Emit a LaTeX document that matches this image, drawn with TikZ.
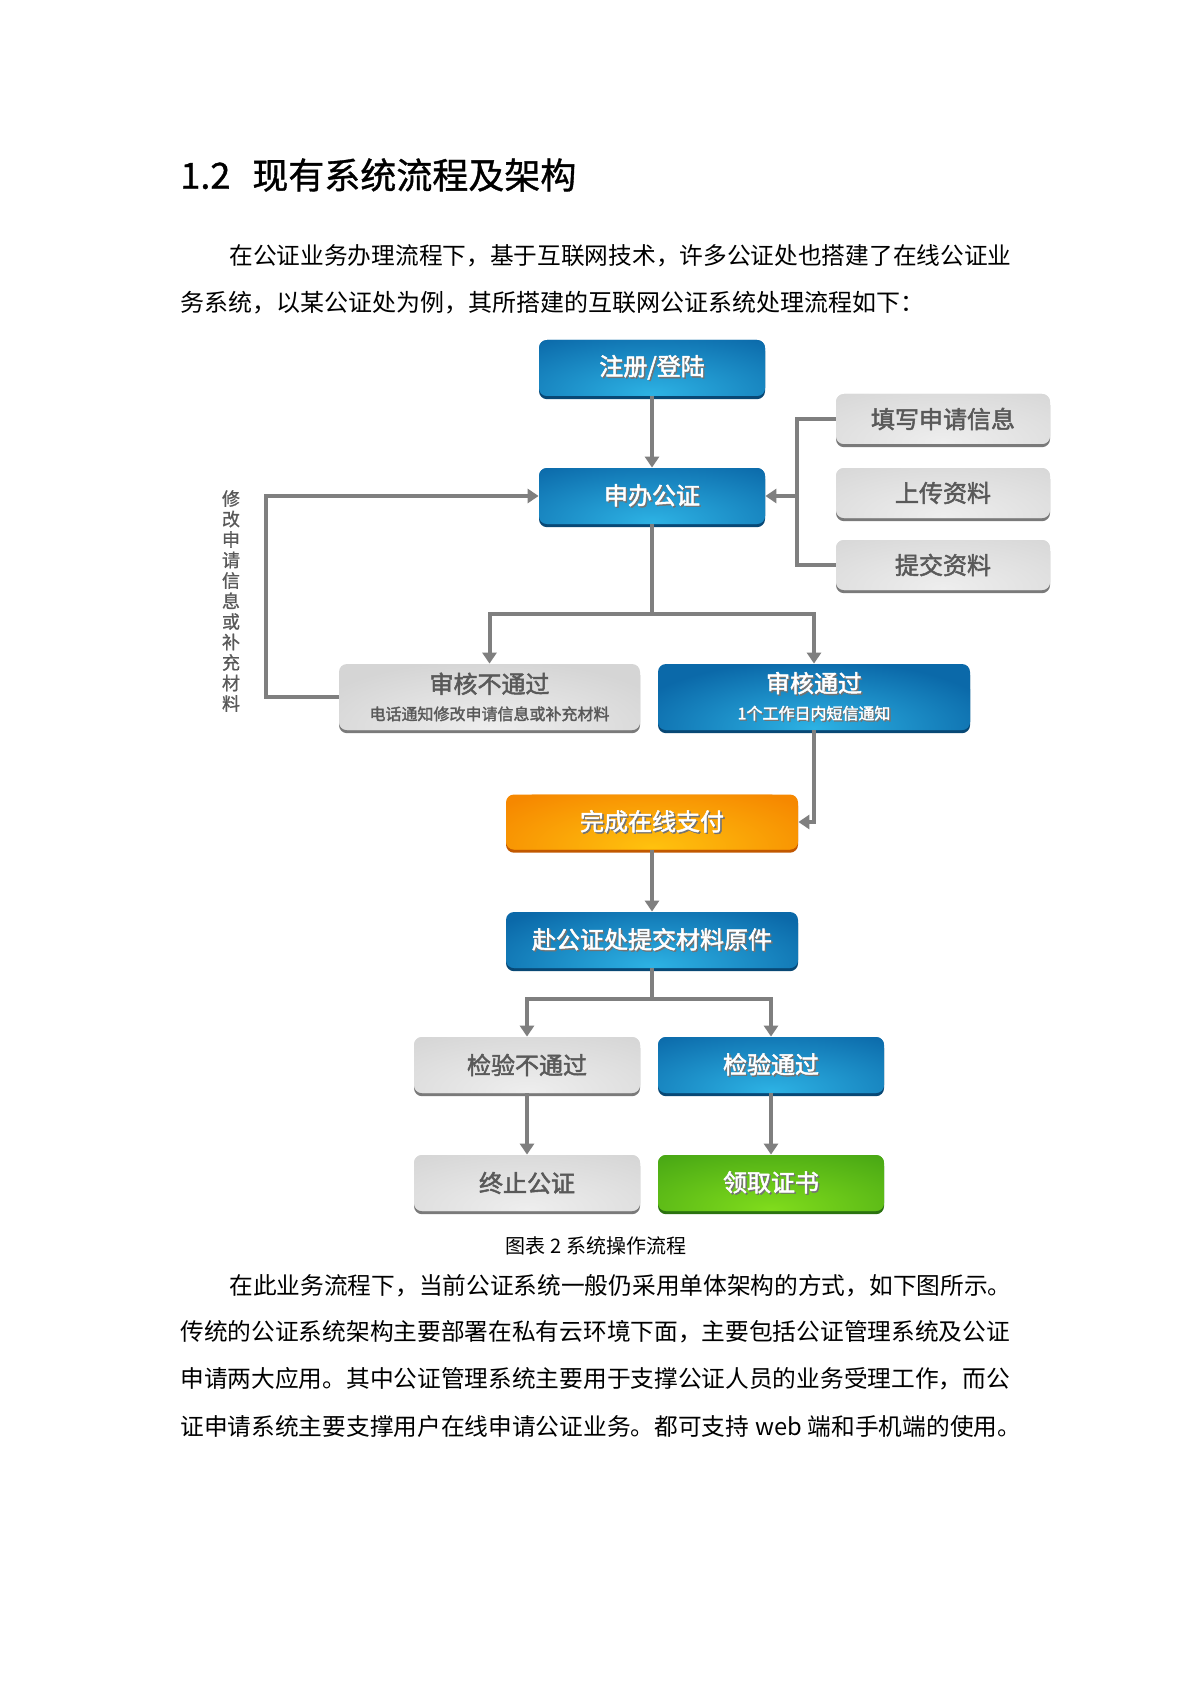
\documentclass[tikz,border=0pt]{standalone}
\usepackage{fontspec}
\setmainfont{Noto Sans CJK SC}
\newfontfamily\boldcjk[FakeBold=2]{Noto Sans CJK SC}
\newfontfamily\medcjk[FakeBold=1]{Noto Sans CJK SC}
\usetikzlibrary{arrows.meta}
\XeTeXlinebreaklocale "zh"
\XeTeXlinebreakskip=0pt plus 2pt minus 1pt
\definecolor{bluebase}{HTML}{0B69A9}
\definecolor{blueglow}{HTML}{2DB2E4}
\definecolor{bluedark}{HTML}{084875}
\definecolor{graybase}{HTML}{D5D5D5}
\definecolor{grayglow}{HTML}{EEEEEE}
\definecolor{graydark}{HTML}{7A7A7A}
\definecolor{orangebase}{HTML}{F68800}
\definecolor{orangeglow}{HTML}{FFC20E}
\definecolor{orangedark}{HTML}{C25800}
\definecolor{greenbase}{HTML}{47A614}
\definecolor{greenglow}{HTML}{80DC1C}
\definecolor{greendark}{HTML}{2B7210}
\definecolor{linegray}{HTML}{7F7F7F}
\definecolor{graytext}{HTML}{595959}
\newcommand\txsh[1]{\leavevmode\rlap{\kern0.7pt\raisebox{-0.7pt}{\color{black!55}#1}}#1}
\newcommand\jline[2]{\hbox to #1{#2}}
\tikzset{
  flowbox/.style n args={3}{rounded corners=4pt, inner sep=0pt, align=center,
    minimum height=28pt, fill=#1,
    preaction={fill=#3, transform canvas={yshift=-1.6pt}},
    path picture={\shade[inner color=#2, outer color=#1]
      ([yshift=1pt]path picture bounding box.south) ellipse [x radius=95pt, y radius=34pt];}},
  bluebox/.style={flowbox={bluebase}{blueglow}{bluedark}, text=white,
    font=\boldcjk\fontsize{12pt}{13.5pt}\selectfont},
  graybox/.style={flowbox={graybase}{grayglow}{graydark}, text=graytext,
    font=\boldcjk\fontsize{12pt}{13.5pt}\selectfont},
  orangebox/.style={flowbox={orangebase}{orangeglow}{orangedark}, text=white,
    font=\boldcjk\fontsize{12pt}{13.5pt}\selectfont},
  greenbox/.style={flowbox={greenbase}{greenglow}{greendark}, text=white,
    font=\boldcjk\fontsize{12pt}{13.5pt}\selectfont},
  conn/.style={draw=linegray, line width=2pt},
  arr/.style={conn, -{Triangle[width=7pt,length=5.5pt]}},
  bodyline/.style={anchor=west, inner sep=0pt, font=\fontsize{11.85pt}{14pt}\selectfont}
}
\begin{document}
\begin{tikzpicture}[x=0.5pt, y=-0.5pt]
\fill[white] (0,0) rectangle (1191,1684);
\useasboundingbox (0,0) rectangle (1191,1684);

% heading and text
\node[anchor=west, inner sep=0pt, font=\medcjk\fontsize{18pt}{20pt}\selectfont] (title) at (180,175) {1.2\hspace{11pt}现有系统流程及架构};
\node[bodyline] (p1a) at (229,256) {\jline{387pt}{在公证业务办理流程下，基于互联网技术，许多公证处也搭建了在线公证业}};
\node[bodyline, font=\fontsize{12pt}{14pt}\selectfont] (p1b) at (180,303) {务系统，以某公证处为例，其所搭建的互联网公证系统处理流程如下：};

% boxes
\node[bluebox, minimum width=113pt] (zhuce) at (652,368) {\txsh{注册/登陆}};
\node[bluebox, minimum width=113pt] (shenban) at (652,496) {\txsh{申办公证}};
\node[graybox, minimum width=107pt, minimum height=25pt] (tianxie) at (943,419) {填写申请信息};
\node[graybox, minimum width=107pt, minimum height=25pt] (shangchuan) at (943,493) {上传资料};
\node[graybox, minimum width=107pt, minimum height=25pt] (tijiao) at (943,565) {提交资料};
\node[graybox, minimum width=150.5pt, minimum height=33pt] (fail) at (489.5,697) {审核不通过\\{\fontsize{8pt}{13.5pt}\selectfont 电话通知修改申请信息或补充材料}};
\node[bluebox, minimum width=156pt, minimum height=33pt] (pass) at (814,697) {\txsh{审核通过}\\{\fontsize{8pt}{13.5pt}\selectfont\txsh{1个工作日内短信通知}}};
\node[orangebox, minimum width=146pt, minimum height=27.5pt] (zaixian) at (652,822) {\txsh{完成在线支付}};
\node[bluebox, minimum width=146pt] (fu) at (652,940) {\txsh{赴公证处提交材料原件}};
\node[graybox, minimum width=113pt] (jyno) at (527,1065) {检验不通过};
\node[bluebox, minimum width=113pt] (jyyes) at (771,1065) {\txsh{检验通过}};
\node[graybox, minimum width=113pt] (zz) at (527,1183) {终止公证};
\node[greenbox, minimum width=113pt] (lq) at (771,1183) {\txsh{领取证书}};

\node[font=\medcjk\fontsize{9pt}{10.25pt}\selectfont, text=graytext, align=center, inner sep=0pt] (vlabel) at (231,601) {修\\改\\申\\请\\信\\息\\或\\补\\充\\材\\料};

% connectors
\coordinate (b1) at (652,614);
\coordinate (lp) at (266,697);
\coordinate (brt) at (797,419);
\coordinate (b2) at (652,999);
\draw[arr] (zhuce.south) -- (shenban.north);
\draw[conn] (shenban.south) -- (b1);
\draw[arr] (b1) -| (fail.north);
\draw[arr] (b1) -| (pass.north);
\draw[arr] (fail.west) -- (lp) |- (shenban.west);
\draw[conn] (tianxie.west) -- (tianxie.west -| brt) -- (tijiao.west -| brt) -- (tijiao.west);
\draw[arr] (shenban.east -| brt) -- (shenban.east);
\draw[arr] (pass.south) |- (zaixian.east);
\draw[arr] (zaixian.south) -- (fu.north);
\draw[conn] (fu.south) -- (b2);
\draw[arr] (b2) -| (jyno.north);
\draw[arr] (b2) -| (jyyes.north);
\draw[arr] (jyno.south) -- (zz.north);
\draw[arr] (jyyes.south) -- (lq.north);

% caption and text
\node[font=\fontsize{10pt}{12pt}\selectfont] (cap) at (596,1246) {图表 2 系统操作流程};
\node[bodyline] (p2a) at (229,1286) {\jline{387pt}{在此业务流程下，当前公证系统一般仍采用单体架构的方式，如下图所示。}};
\node[bodyline] (p2b) at (180,1332) {\jline{411.5pt}{传统的公证系统架构主要部署在私有云环境下面，主要包括公证管理系统及公证}};
\node[bodyline] (p2c) at (180,1379) {\jline{411.5pt}{申请两大应用。其中公证管理系统主要用于支撑公证人员的业务受理工作，而公}};
\node[bodyline] (p2d) at (180,1426) {\jline{411.5pt}{证申请系统主要支撑用户在线申请公证业务。都可支持\hspace{3pt}web\hspace{3pt}端和手机端的使用。}};
\end{tikzpicture}
\end{document}
